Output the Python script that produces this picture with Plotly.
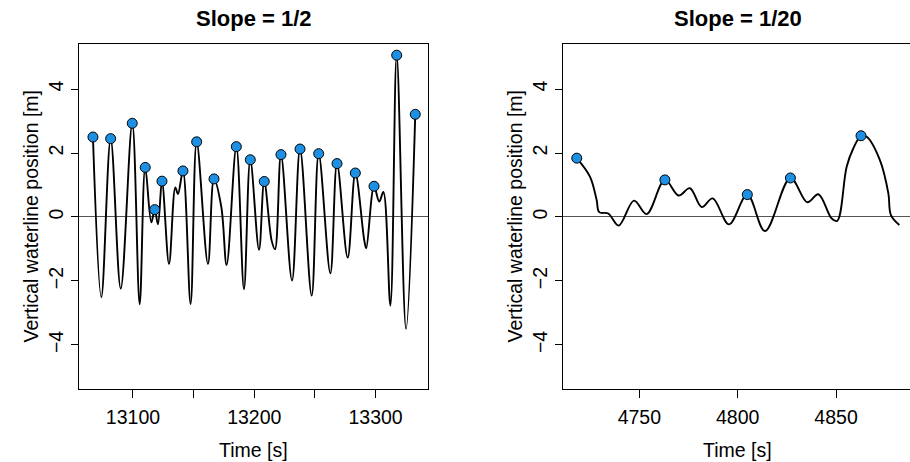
import plotly.graph_objects as go

# ---------------- data ----------------
# Slope = 1/2 : waterline time series (knots along the curve)
left_t = [13067.0, 13073.9, 13081.6, 13089.9, 13099.4, 13105.5, 13110.1, 13115.1,
          13117.9, 13120.6, 13123.9, 13129.7, 13134.9, 13137.1, 13141.2, 13147.5,
          13152.5, 13161.8, 13166.8, 13172.8, 13177.2, 13185.2, 13191.5, 13196.7,
          13203.9, 13208.2, 13214.3, 13217.1, 13222.0, 13231.1, 13237.7, 13247.3,
          13253.1, 13262.7, 13268.2, 13277.0, 13283.3, 13290.7, 13292.3, 13298.7,
          13303.0, 13306.4, 13312.2, 13317.4, 13325.1, 13332.7]
left_y = [2.50, -2.51, 2.45, -2.24, 2.93, -2.73, 1.55, -0.17,
          0.23, -0.23, 1.12, -1.47, 0.92, 0.72, 1.44, -2.72,
          2.35, -1.47, 1.19, 0.32, -1.50, 2.20, -2.26, 1.79,
          -1.03, 1.11, -0.74, -1.01, 1.95, -1.99, 2.125, -2.46,
          1.98, -1.76, 1.67, -1.27, 1.375, -0.74, -0.98, 0.96,
          0.48, 0.78, -2.77, 5.06, -3.50, 3.21]
# detected run-up maxima
left_peak_t = [13067.0, 13081.6, 13099.4, 13110.1, 13117.9, 13123.9, 13141.2,
               13152.5, 13166.8, 13185.2, 13196.7, 13208.2, 13222.0, 13237.7,
               13253.1, 13268.2, 13283.3, 13298.7, 13317.4, 13332.7]
left_peak_y = [2.50, 2.45, 2.93, 1.55, 0.23, 1.12, 1.44,
               2.35, 1.19, 2.20, 1.79, 1.11, 1.95, 2.125,
               1.98, 1.67, 1.375, 0.96, 5.06, 3.21]

# Slope = 1/20
right_t = [4718.2, 4724.9, 4728.3, 4729.6, 4734.2, 4739.5, 4747.3, 4753.7,
           4763.0, 4770.0, 4775.7, 4781.7, 4787.3, 4795.6, 4804.9, 4813.9,
           4826.8, 4835.4, 4841.0, 4847.8, 4850.6, 4855.4, 4858.8, 4862.7,
           4865.6, 4872.3, 4876.6, 4877.9, 4882.2]
right_y = [1.84, 1.26, 0.53, 0.15, 0.11, -0.27, 0.51, 0.09,
           1.16, 0.67, 0.90, 0.31, 0.58, -0.23, 0.70, -0.44,
           1.22, 0.46, 0.71, -0.05, -0.12, 1.57, 2.15, 2.54,
           2.51, 1.78, 0.74, 0.06, -0.25]
right_peak_t = [4718.2, 4763.0, 4804.9, 4826.8, 4862.7]
right_peak_y = [1.84, 1.16, 0.70, 1.22, 2.54]

left_xticks = [13100, 13150, 13200, 13250, 13300]
left_xticklabels = ["13100", "", "13200", "", "13300"]
right_xticks = [4750, 4800, 4850]
yticks = [-4, -2, 0, 2, 4]
titles = ["Slope = 1/2", "Slope = 1/20"]
xlabel = "Time [s]"
ylabel = "Vertical waterline position [m]"

# ---------------- figure ----------------
W, H = 910, 462
FONT = "Liberation Sans, Arial, Helvetica, sans-serif"
MARKER_COLOR = "#1e90e4"
AX_SIZE = 19.5
TITLE_SIZE = 22

fig = go.Figure()

for (tx, ty, pt, py, xa, ya) in [
    (left_t, left_y, left_peak_t, left_peak_y, "x", "y"),
    (right_t, right_y, right_peak_t, right_peak_y, "x2", "y2"),
]:
    fig.add_trace(go.Scatter(x=tx, y=ty, mode="lines", xaxis=xa, yaxis=ya,
                             line=dict(color="black", width=1.9, shape="spline", smoothing=1.0),
                             showlegend=False, hoverinfo="skip"))
    fig.add_trace(go.Scatter(x=pt, y=py, mode="markers", xaxis=xa, yaxis=ya,
                             marker=dict(color=MARKER_COLOR, size=10,
                                         line=dict(color="black", width=1)),
                             showlegend=False))

x1_dom = [79 / W, 428 / W]
x2_dom = [563 / W, 1.0]
y_dom = [(H - 389) / H, (H - 44) / H]

common_x = dict(showgrid=False, zeroline=False, showline=True, linecolor="black",
                linewidth=1, mirror=True, ticks="outside", ticklen=8, tickwidth=1,
                tickcolor="black", tickfont=dict(size=AX_SIZE, color="black", family=FONT),
                ticklabelstandoff=3)
common_y = dict(showgrid=False, zeroline=True, zerolinecolor="#555555", zerolinewidth=1,
                showline=True, linecolor="black", linewidth=1, ticks="outside",
                ticklen=7, tickwidth=1, tickcolor="black", tickangle=-90,
                tickvals=yticks, ticktext=[("\u2212" + str(-v)) if v < 0 else str(v) for v in yticks],
                tickfont=dict(size=AX_SIZE, color="black", family=FONT),
                range=[-5.38, 5.41], ticklabelstandoff=0)

fig.update_layout(
    width=W, height=H, margin=dict(l=0, r=0, t=0, b=0),
    plot_bgcolor="white", paper_bgcolor="white",
    font=dict(family=FONT, color="black"),
    xaxis=dict(domain=x1_dom, anchor="y", range=[13055.5, 13343.2],
               tickvals=left_xticks, ticktext=left_xticklabels, **common_x),
    yaxis=dict(domain=y_dom, anchor="x", mirror=True, **common_y),
    xaxis2=dict(domain=x2_dom, anchor="y2", range=[4711.2, 4887.6],
                tickvals=right_xticks, ticktext=[str(v) for v in right_xticks], **common_x),
    yaxis2=dict(domain=y_dom, anchor="x2", mirror=False, **common_y),
)

box_left = [79, 563]
box_right = [428, 912]
y_mid = (y_dom[0] + y_dom[1]) / 2
for bl, br, txt in zip(box_left, box_right, titles):
    cx = (bl + br) / 2 / W
    fig.add_annotation(x=cx, y=1 - 18 / H, xref="paper", yref="paper",
                       text="<b>" + txt + "</b>", showarrow=False, xanchor="center",
                       yanchor="middle", font=dict(size=TITLE_SIZE, color="black", family=FONT))
    fig.add_annotation(x=cx, y=1 - 450 / H, xref="paper", yref="paper",
                       text=xlabel, showarrow=False, xanchor="center", yanchor="middle",
                       font=dict(size=AX_SIZE, color="black", family=FONT))
    fig.add_annotation(x=(bl - 49) / W, y=y_mid, xref="paper", yref="paper",
                       text=ylabel, showarrow=False, xanchor="center", yanchor="middle",
                       textangle=-90, font=dict(size=AX_SIZE, color="black", family=FONT))

fig.write_html("out.html")
